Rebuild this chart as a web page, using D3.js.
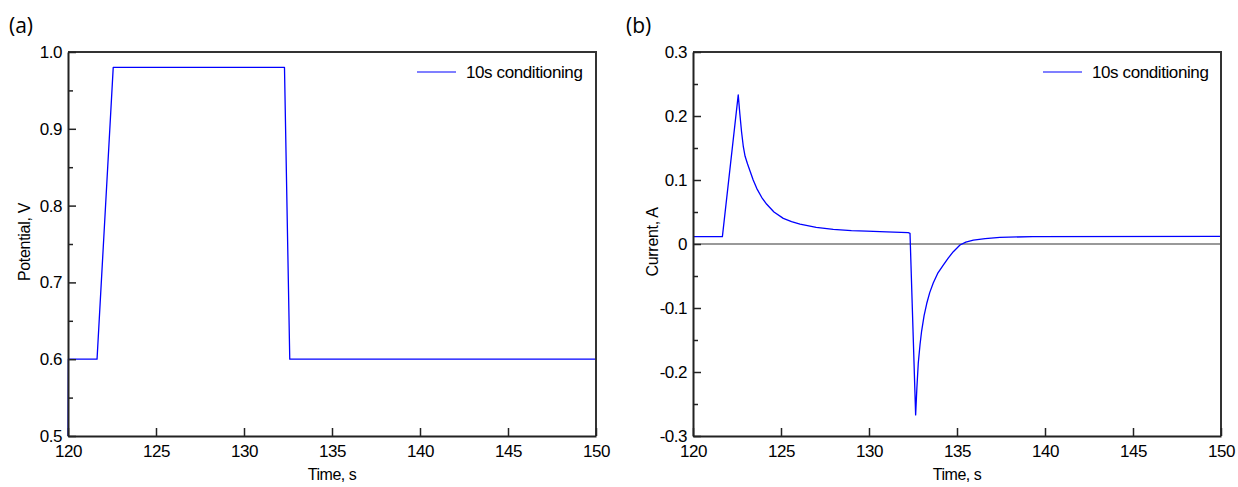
<!DOCTYPE html>
<html>
<head>
<meta charset="utf-8">
<script src="https://cdn.jsdelivr.net/npm/d3@7"></script>
<style>
  body { margin: 0; background: #fff; }
  svg text { font-family: "Liberation Sans", Arial, sans-serif; fill: #000; }
</style>
</head>
<body>
<div id="chart"></div>
<script>
// time axis shared by both panels
var timeTicks = [120, 125, 130, 135, 140, 145, 150];

// panel (a) potential step, V
var potTime  = [120, 120.02, 121.65, 122.57, 132.3, 132.6, 150];
var potValue = [0.5, 0.6,    0.6,    0.98,   0.98,  0.6,   0.6];
var potTicks = [0.5, 0.6, 0.7, 0.8, 0.9, 1.0];

// panel (b) current response, A
var curTime  = [120, 121.67, 122.57, 122.66, 122.76, 122.86, 122.96, 123.1, 123.24, 123.42, 123.62, 123.9, 124.19,
                124.6, 125.13, 125.6, 126.08, 127.0, 127.97, 129.0, 129.87, 131.0, 132.23, 132.33,
                132.65, 132.72, 132.8, 132.9, 132.99, 133.13, 133.28, 133.45, 133.65, 133.9, 134.22, 134.5,
                134.79, 135.17, 135.5, 135.93, 136.6, 137.44, 139.3, 150];
var curValue = [0.0115, 0.0115, 0.233, 0.204, 0.175, 0.152, 0.137, 0.125, 0.114, 0.100, 0.087, 0.073, 0.062,
                0.050, 0.040, 0.035, 0.031, 0.026, 0.023, 0.021, 0.020, 0.019, 0.0177, 0.0167,
                -0.267, -0.225, -0.186, -0.157, -0.136, -0.112, -0.093, -0.076, -0.061, -0.046, -0.033, -0.022,
                -0.012, -0.0016, 0.003, 0.006, 0.0085, 0.0104, 0.0115, 0.012];
var curTicks = [-0.3, -0.2, -0.1, 0, 0.1, 0.2, 0.3];

var legendLabel = "10s conditioning";

var svgWidth = 1238;
var svgHeight = 487;
var fontName = "Liberation Sans, Arial, sans-serif";

var svg = d3.select("#chart")
  .append("svg")
  .attr("width", svgWidth)
  .attr("height", svgHeight);

function drawPanel(opts) {
  var left = opts.left, top = 52, width = 528, height = 384;

  var g = svg.append("g")
    .attr("transform", `translate(${left}, ${top})`);

  var x = d3.scaleLinear().domain([120, 150]).range([0, width]);
  var y = d3.scaleLinear().domain(opts.yDomain).range([height, 0]);

  // zero line for current panel
  if (opts.zeroLine) {
    g.append("line")
      .attr("x1", 0).attr("x2", width)
      .attr("y1", y(0)).attr("y2", y(0))
      .attr("stroke", "#777")
      .attr("stroke-width", 1.5);
  }

  // data line
  var pts = opts.xs.map((t, i) => [t, opts.ys[i]]);
  g.append("path")
    .datum(pts)
    .attr("fill", "none")
    .attr("stroke", "#0000ff")
    .attr("stroke-width", 1.3)
    .attr("stroke-linejoin", "round")
    .attr("d", d3.line().x(d => x(d[0])).y(d => y(d[1])));

  // frame (top and right)
  g.append("path")
    .attr("d", `M0,0H${width}V${height}`)
    .attr("fill", "none")
    .attr("stroke", "#333")
    .attr("stroke-width", 2);

  // bottom axis, ticks pointing inward
  var xAxis = g.append("g")
    .attr("transform", `translate(0, ${height})`)
    .call(d3.axisBottom(x).tickValues(timeTicks).tickSize(-8).tickSizeOuter(0).tickFormat(d3.format("d")));
  xAxis.attr("font-family", fontName).attr("font-size", 17);
  xAxis.select(".domain").attr("stroke", "#222").attr("stroke-width", 2);
  xAxis.selectAll(".tick line").attr("stroke", "#222").attr("stroke-width", 1.5);
  xAxis.selectAll(".tick text")
    .attr("y", 9)
    .attr("dy", "0.71em")
    .attr("letter-spacing", -0.5);

  // left axis with minor ticks
  var minor = [];
  for (var i = 0; i < opts.yTicks.length - 1; i++) {
    minor.push((opts.yTicks[i] + opts.yTicks[i + 1]) / 2);
  }
  var yMinor = g.append("g")
    .call(d3.axisLeft(y).tickValues(minor).tickSize(-5).tickFormat(""));
  yMinor.select(".domain").remove();
  yMinor.selectAll(".tick line").attr("stroke", "#222").attr("stroke-width", 1.5);

  var yAxis = g.append("g")
    .call(d3.axisLeft(y).tickValues(opts.yTicks).tickSize(-8).tickSizeOuter(0).tickFormat(opts.yFormat));
  yAxis.attr("font-family", fontName).attr("font-size", 17);
  yAxis.select(".domain").attr("stroke", "#222").attr("stroke-width", 2);
  yAxis.selectAll(".tick text")
    .attr("x", -6)
    .attr("letter-spacing", -0.5);
  yAxis.selectAll(".tick line").attr("stroke", "#222").attr("stroke-width", 1.5);

  // axis titles
  g.append("text")
    .attr("x", width / 2)
    .attr("y", height + 44)
    .attr("text-anchor", "middle")
    .attr("font-size", 16)
    .attr("letter-spacing", -0.5)
    .text("Time, s");

  g.append("text")
    .attr("transform", `translate(${opts.yTitleX}, ${height / 2 - 2}) rotate(-90)`)
    .attr("text-anchor", "middle")
    .attr("font-size", 16)
    .attr("letter-spacing", -0.3)
    .text(opts.yTitle);

  // legend
  g.append("line")
    .attr("x1", opts.legX).attr("x2", opts.legX + 39)
    .attr("y1", 20).attr("y2", 20)
    .attr("stroke", "#0000ff")
    .attr("stroke-width", 1.2);
  g.append("text")
    .attr("x", opts.legX + 49)
    .attr("y", 26)
    .attr("font-size", 17)
    .attr("letter-spacing", -0.4)
    .text(legendLabel);

  // panel tag
  svg.append("text")
    .attr("x", opts.tagX)
    .attr("y", 33)
    .attr("font-size", 21)
    .style("font-family", "Open Sans, Liberation Sans, sans-serif")
    .text(opts.tag);
}

drawPanel({
  left: 68,
  xs: potTime, ys: potValue,
  yDomain: [0.5, 1.0], yTicks: potTicks,
  yFormat: d => d.toFixed(1),
  yTitle: "Potential, V", yTitleX: -38,
  legX: 349, tag: "(a)", tagX: 9
});

drawPanel({
  left: 693,
  xs: curTime, ys: curValue,
  yDomain: [-0.3, 0.3], yTicks: curTicks,
  yFormat: d => Math.abs(d) < 1e-9 ? "0" : d.toFixed(1),
  yTitle: "Current, A", yTitleX: -35,
  legX: 350, zeroLine: true, tag: "(b)", tagX: 626
});
</script>
</body>
</html>
